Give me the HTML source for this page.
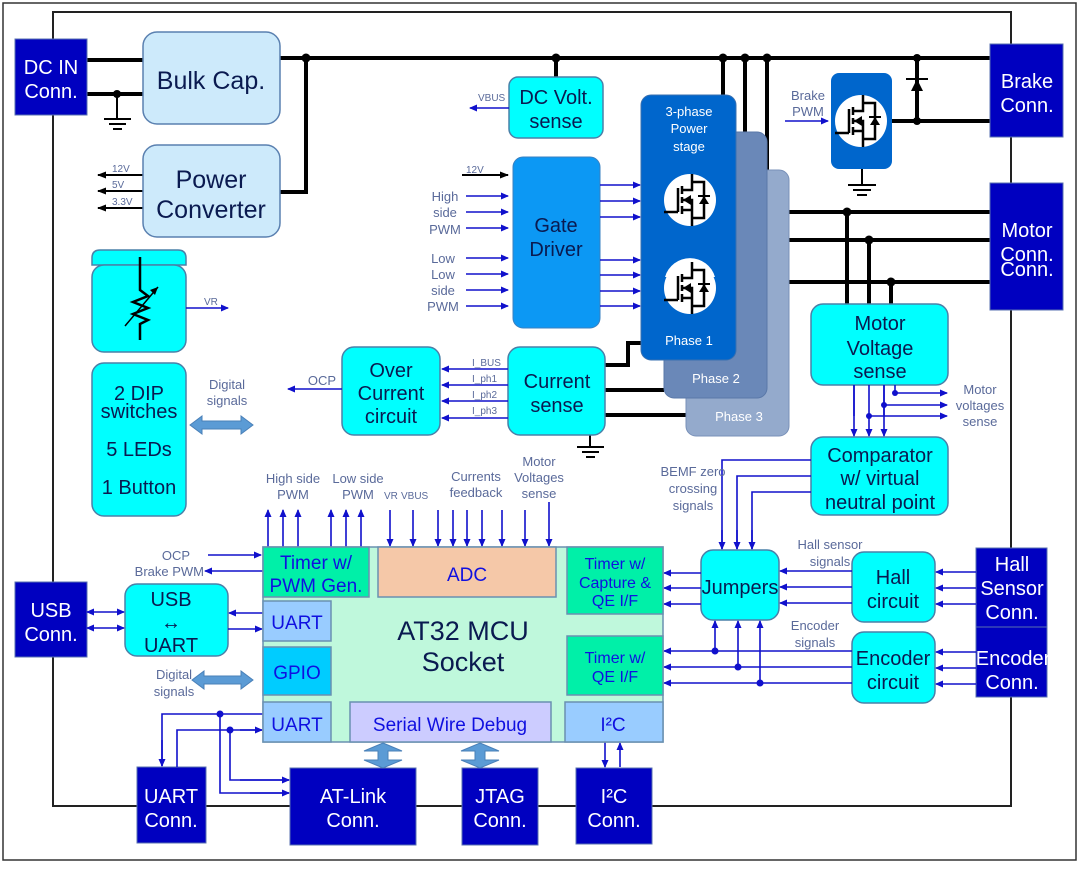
<!DOCTYPE html>
<html><head><meta charset="utf-8"><style>
body{margin:0;background:#fff}
svg text{font-family:"Liberation Sans","DejaVu Sans",sans-serif}
</style></head><body>
<svg width="1080" height="864" viewBox="0 0 1080 864" xmlns="http://www.w3.org/2000/svg">
<defs>
<marker id="ab" markerWidth="8" markerHeight="8" refX="7" refY="4" orient="auto" markerUnits="userSpaceOnUse"><path d="M0,0.5 L8,4 L0,7.5z" fill="#1010cc"/></marker>
<marker id="ak" markerWidth="9" markerHeight="8" refX="8" refY="4" orient="auto" markerUnits="userSpaceOnUse"><path d="M0,0.5 L9,4 L0,7.5z" fill="#000"/></marker>
<marker id="as" markerWidth="8" markerHeight="8" refX="1" refY="4" orient="auto" markerUnits="userSpaceOnUse"><path d="M8,0.5 L0,4 L8,7.5z" fill="#1010cc"/></marker>
<g id="fet">
<circle r="26" fill="#fff"/>
<path d="M-12,-12 V12 M-8,-14 V-6 M-8,-3 V3 M-8,6 V14 M-8,-10 H2 V-26 M-8,10 H2 V26 M-8,0 H2 V10 M-26,12 H-12 M2,-18 H14 V18 H2" stroke="#000" stroke-width="2.5" fill="none"/>
<path d="M-7,0 L1,-5 L1,5z M9,4 L19,4 L14,-4z" fill="#000"/><path d="M8,-4 H20" stroke="#000" stroke-width="2"/>
</g>
</defs>
<rect x="3" y="3" width="1073" height="857" fill="none" stroke="#333" stroke-width="1.5"/>
<rect x="53" y="12" width="958" height="794" fill="none" stroke="#222" stroke-width="2"/>

<g stroke="#000" stroke-width="4" fill="none">
<path d="M87,60 H143 M87,94 H143 M280,58 H990 M280,192 H306 V58 M556,58 V77 M723,58 V95 M745,58 V132 M767,58 V170 M917,58 V121 M892,121 H990 M736,212 H990 M760,240 H990 M781,282 H990 M847,212 V305 M869,240 V305 M891,282 V305 M605,365 H628 V343 H641 M605,390 H664 M605,415 H686"/>
</g>
<g stroke="#000" stroke-width="2" fill="none">
<path d="M117,94 V118 M104,119 H131 M109,124 H126 M113,129 H122 M862,169 V184 M848,185 H876 M853,190 H871 M857,195 H867 M590,435 V446 M577,447 H604 M582,452 H599 M586,457 H595"/>
<path d="M143,175 H98" marker-end="url(#ak)"/><path d="M143,191 H98" marker-end="url(#ak)"/><path d="M143,208 H98" marker-end="url(#ak)"/>
<path d="M462,175 H508" marker-end="url(#ak)"/>
<path d="M906,79 H928"/>
</g>
<path d="M917,79 L911,91 L923,91z" fill="#000"/>
<g fill="#000"><circle cx="306" cy="58" r="4.5"/><circle cx="117" cy="94" r="4"/><circle cx="556" cy="58" r="4.5"/><circle cx="723" cy="58" r="4.5"/><circle cx="745" cy="58" r="4.5"/><circle cx="767" cy="58" r="4.5"/><circle cx="917" cy="58" r="4"/><circle cx="917" cy="121" r="4"/><circle cx="847" cy="212" r="4.5"/><circle cx="869" cy="240" r="4.5"/><circle cx="891" cy="282" r="4.5"/></g>
<g font-size="10" fill="#5a6a9a"><text x="112" y="172">12V</text><text x="112" y="188">5V</text><text x="112" y="205">3.3V</text><text x="466" y="173">12V</text></g>

<g fill="#0000c0" stroke="#5870b0" stroke-width="1">
<rect x="15" y="39" width="72" height="76"/><rect x="990" y="44" width="73" height="93"/><rect x="990" y="183" width="73" height="127"/>
<rect x="15" y="582" width="72" height="75"/><rect x="976" y="548" width="71" height="79"/><rect x="976" y="627" width="71" height="70"/>
<rect x="137" y="767" width="69" height="76"/><rect x="290" y="768" width="126" height="77"/><rect x="462" y="768" width="76" height="77"/><rect x="576" y="768" width="76" height="76"/>
</g>
<g fill="#fff" font-size="20" text-anchor="middle">
<text x="51" y="74">DC IN</text><text x="51" y="98">Conn.</text>
<text x="1027" y="88">Brake</text><text x="1027" y="112">Conn.</text>
<text x="1027" y="237">Motor</text><text x="1027" y="261">Conn.</text><text x="1027" y="276">Conn.</text>
<text x="51" y="617">USB</text><text x="51" y="641">Conn.</text>
<text x="1012" y="571">Hall</text><text x="1012" y="595">Sensor</text><text x="1012" y="619">Conn.</text>
<text x="1013" y="665">Encoder</text><text x="1012" y="689">Conn.</text>
<text x="171" y="803">UART</text><text x="171" y="827">Conn.</text>
<text x="353" y="803">AT-Link</text><text x="353" y="827">Conn.</text>
<text x="500" y="803">JTAG</text><text x="500" y="827">Conn.</text>
<text x="614" y="803">I²C</text><text x="614" y="827">Conn.</text>
</g>

<g fill="#cdeafb" stroke="#5a80b0" stroke-width="1.5"><rect x="143" y="32" width="137" height="92" rx="14"/><rect x="143" y="145" width="137" height="92" rx="14"/></g>
<g fill="#0a1a50" font-size="25" text-anchor="middle"><text x="211" y="89">Bulk Cap.</text><text x="211" y="188">Power</text><text x="211" y="218">Converter</text></g>

<g fill="#00ffff" stroke="#4a80a8" stroke-width="1.5">
<rect x="509" y="77" width="94" height="61" rx="9"/>
<path d="M92,265 V258 Q92,250 100,250 H178 Q186,250 186,258 V265z"/>
<rect x="92" y="265" width="94" height="87" rx="12"/>
<rect x="92" y="363" width="94" height="153" rx="12"/>
<rect x="342" y="347" width="98" height="88" rx="12"/>
<rect x="508" y="347" width="97" height="88" rx="12"/>
<rect x="811" y="304" width="137" height="81" rx="12"/>
<rect x="811" y="437" width="137" height="78" rx="12"/>
<rect x="125" y="584" width="103" height="72" rx="12"/>
<rect x="701" y="550" width="78" height="70" rx="12"/>
<rect x="852" y="552" width="83" height="70" rx="12"/>
<rect x="852" y="632" width="83" height="71" rx="12"/>
</g>
<g fill="#0a1a50" font-size="20" text-anchor="middle">
<text x="556" y="104">DC Volt.</text><text x="556" y="128">sense</text>
<text x="139" y="400">2 DIP</text><text x="139" y="418">switches</text><text x="139" y="456">5 LEDs</text><text x="139" y="494">1 Button</text>
<text x="391" y="377">Over</text><text x="391" y="400">Current</text><text x="391" y="423">circuit</text>
<text x="557" y="388">Current</text><text x="557" y="412">sense</text>
<text x="880" y="330">Motor</text><text x="880" y="355">Voltage</text><text x="880" y="378">sense</text>
<text x="880" y="462">Comparator</text><text x="880" y="485">w/ virtual</text><text x="880" y="509">neutral point</text>
<text x="171" y="606">USB</text><text x="171" y="629">↔</text><text x="171" y="652">UART</text>
<text x="740" y="594">Jumpers</text>
<text x="893" y="584">Hall</text><text x="893" y="608">circuit</text>
<text x="893" y="665">Encoder</text><text x="893" y="689">circuit</text>
</g>
<g stroke="#000" stroke-width="2.5" fill="none"><path d="M140,257 V290 L148,296 L133,302 L148,308 L133,314 L148,320 L140,324 V340"/><path d="M125,326 L158,287" stroke-width="1.5"/></g>
<path d="M158,287 L150,290 L155,295z" fill="#000"/>

<rect x="686" y="170" width="103" height="266" rx="10" fill="#94aacc" stroke="#7890b8"/>
<rect x="664" y="132" width="103" height="266" rx="10" fill="#6a88b8" stroke="#5a78a8"/>
<rect x="641" y="95" width="95" height="265" rx="10" fill="#0066cc" stroke="#3a70b0"/>
<rect x="513" y="157" width="87" height="171" rx="10" fill="#0c98f4" stroke="#3a80c0"/>
<g fill="#0a1a50" font-size="20" text-anchor="middle"><text x="556" y="232">Gate</text><text x="556" y="256">Driver</text></g>
<g fill="#fff" font-size="13" text-anchor="middle"><text x="689" y="116">3-phase</text><text x="689" y="133">Power</text><text x="689" y="151">stage</text><text x="689" y="345">Phase 1</text><text x="716" y="383">Phase 2</text><text x="739" y="421">Phase 3</text></g>
<use href="#fet" x="690" y="200"/>
<path d="M665,277 A26,26 0 0 1 715,277z" fill="#fff"/>
<rect x="663" y="277" width="54" height="6" fill="#0066cc"/>
<use href="#fet" x="690" y="288"/>
<rect x="831" y="73" width="61" height="96" rx="8" fill="#0066cc"/>
<use href="#fet" x="861" y="121"/>

<g stroke="#1010cc" stroke-width="1.6" fill="none">
<path d="M811,460 H722 V549 M811,476 H737 V549 M811,492 H752 V549 M263,714 H162 V766 M220,714 V793 H289 M177,767 V730 H262 M230,730 V780 H289 M884,385 V416 M854,385 V416 M895,385 V393"/>
</g>
<g stroke="#1010cc" stroke-width="1.6" fill="none" marker-end="url(#ab)">
<path d="M509,108 H470"/>
<path d="M466,196 H508"/><path d="M466,212 H508"/><path d="M466,228 H508"/><path d="M466,258 H508"/><path d="M466,274 H508"/><path d="M466,290 H508"/><path d="M466,306 H508"/>
<path d="M600,185 H640"/><path d="M600,201 H640"/><path d="M600,217 H640"/><path d="M600,260 H640"/><path d="M600,275 H640"/><path d="M600,291 H640"/><path d="M600,306 H640"/>
<path d="M785,121 H828"/>
<path d="M186,308 H228"/>
<path d="M508,369 H442"/><path d="M508,385 H442"/><path d="M508,401 H442"/><path d="M508,418 H442"/>
<path d="M342,389 H288"/>
<path d="M854,385 V436"/><path d="M869,385 V436"/><path d="M884,385 V436"/>
<path d="M895,393 H947"/><path d="M884,405 H947"/><path d="M869,416 H947"/>
<path d="M268,547 V510"/><path d="M283,547 V510"/><path d="M298,547 V510"/><path d="M331,547 V510"/><path d="M346,547 V510"/><path d="M361,547 V510"/>
<path d="M390,510 V546"/><path d="M413,510 V546"/><path d="M438,510 V546"/><path d="M453,510 V546"/><path d="M467,510 V546"/><path d="M482,510 V546"/><path d="M502,510 V546"/><path d="M525,510 V546"/><path d="M549,502 V546"/>
<path d="M208,555 H261"/><path d="M263,571 H205"/>
<path d="M263,613 H229"/><path d="M228,629 H262"/>
<path d="M722,530 V549"/><path d="M737,530 V549"/><path d="M752,530 V549"/>
<path d="M701,573 H664"/><path d="M701,588 H664"/><path d="M701,604 H664"/>
<path d="M852,571 H780"/><path d="M852,587 H780"/><path d="M852,603 H780"/>
<path d="M976,572 H936"/><path d="M976,588 H936"/><path d="M976,604 H936"/><path d="M976,652 H936"/><path d="M976,668 H936"/><path d="M976,684 H936"/>
<path d="M852,651 H664"/><path d="M852,667 H664"/><path d="M852,683 H664"/>
<path d="M715,651 V621"/><path d="M738,667 V621"/><path d="M760,683 V621"/>
<path d="M162,740 V766"/><path d="M250,793 H289"/><path d="M240,780 H289"/><path d="M240,730 H262"/>
<path d="M605,742 V767"/><path d="M620,767 V743"/>
</g>
<path d="M87,612 H124" stroke="#1010cc" stroke-width="1.6" marker-start="url(#as)" marker-end="url(#ab)"/>
<path d="M87,628 H124" stroke="#1010cc" stroke-width="1.6" marker-start="url(#as)" marker-end="url(#ab)"/>
<g fill="#1010cc"><circle cx="895" cy="393" r="3"/><circle cx="884" cy="405" r="3"/><circle cx="869" cy="416" r="3"/><circle cx="715" cy="651" r="3.5"/><circle cx="738" cy="667" r="3.5"/><circle cx="760" cy="683" r="3.5"/><circle cx="220" cy="714" r="3.5"/><circle cx="230" cy="730" r="3.5"/></g>

<g font-size="13" fill="#5a6a9a" text-anchor="middle">
<text x="445" y="201">High</text><text x="445" y="217">side</text><text x="445" y="234">PWM</text>
<text x="443" y="263">Low</text><text x="443" y="279">Low</text><text x="443" y="295">side</text><text x="443" y="311">PWM</text>
<text x="808" y="100">Brake</text><text x="808" y="116">PWM</text>
<text x="227" y="389">Digital</text><text x="227" y="405">signals</text>
<text x="980" y="394">Motor</text><text x="980" y="410">voltages</text><text x="980" y="426">sense</text>
<text x="693" y="476">BEMF zero</text><text x="693" y="493">crossing</text><text x="693" y="510">signals</text>
<text x="293" y="483">High side</text><text x="293" y="499">PWM</text>
<text x="358" y="483">Low side</text><text x="358" y="499">PWM</text>
<text x="476" y="481">Currents</text><text x="476" y="497">feedback</text>
<text x="539" y="466">Motor</text><text x="539" y="482">Voltages</text><text x="539" y="498">sense</text>
<text x="830" y="549">Hall sensor</text><text x="830" y="566">signals</text>
<text x="815" y="630">Encoder</text><text x="815" y="647">signals</text>
<text x="174" y="679">Digital</text><text x="174" y="696">signals</text>
<text x="190" y="560" text-anchor="end">OCP</text><text x="204" y="576" text-anchor="end">Brake PWM</text>
<text x="322" y="385">OCP</text>
</g>
<g font-size="10" fill="#5a6a9a">
<text x="478" y="101">VBUS</text><text x="204" y="305">VR</text>
<text x="472" y="366">I_BUS</text><text x="472" y="382">I_ph1</text><text x="472" y="398">I_ph2</text><text x="472" y="414">I_ph3</text>
<text x="384" y="499">VR</text><text x="401" y="499">VBUS</text>
</g>

<rect x="263" y="547" width="400" height="195" fill="#bff8dc" stroke="#6a90b0" stroke-width="1.5"/>
<g stroke="#6a90b0" stroke-width="1.5">
<rect x="263" y="547" width="106" height="50" fill="#00f0a8"/>
<rect x="378" y="547" width="178" height="50" fill="#f5c8a8"/>
<rect x="567" y="547" width="96" height="67" fill="#00f0a8"/>
<rect x="567" y="636" width="96" height="59" fill="#00f0a8"/>
<rect x="263" y="601" width="68" height="40" fill="#99ccff"/>
<rect x="263" y="647" width="68" height="48" fill="#00ccff"/>
<rect x="263" y="702" width="68" height="40" fill="#99ccff"/>
<rect x="350" y="702" width="201" height="40" fill="#ccccff"/>
<rect x="565" y="702" width="98" height="40" fill="#99ccff"/>
</g>
<g fill="#1010e0" font-size="19" text-anchor="middle">
<text x="316" y="569">Timer w/</text><text x="316" y="592">PWM Gen.</text>
<text x="467" y="581">ADC</text>
<text x="615" y="569" font-size="16">Timer w/</text><text x="615" y="588" font-size="16">Capture &amp;</text><text x="615" y="606" font-size="16">QE I/F</text>
<text x="615" y="663" font-size="16">Timer w/</text><text x="615" y="682" font-size="16">QE I/F</text>
<text x="297" y="629">UART</text><text x="297" y="679">GPIO</text><text x="297" y="731">UART</text>
<text x="450" y="731">Serial Wire Debug</text><text x="613" y="731">I²C</text>
</g>
<g fill="#0a1a50" font-size="27" text-anchor="middle"><text x="463" y="640">AT32 MCU</text><text x="463" y="671">Socket</text></g>

<g fill="#5b9bd5" stroke="#4a80b8">
<path d="M190,425 L202,416 V421 H241 V416 L253,425 L241,434 V429 H202 V434z"/>
<path d="M192,680 L204,671 V676 H241 V671 L253,680 L241,689 V684 H204 V689z"/>
<path d="M383,743 L402,751 H388 V760 H402 L383,768 L364,760 H378 V751 H364z"/>
<path d="M480,743 L499,751 H485 V760 H499 L480,768 L461,760 H475 V751 H461z"/>
</g>
</svg>
</body></html>
